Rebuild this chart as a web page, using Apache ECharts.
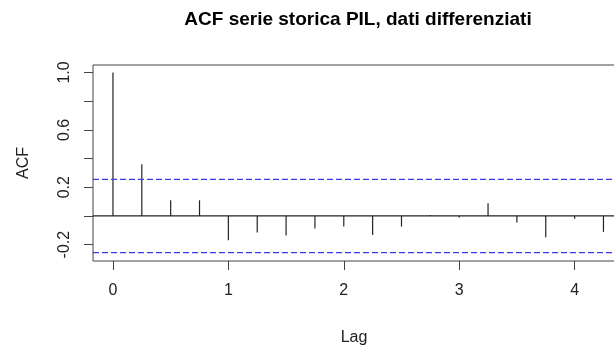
<!DOCTYPE html>
<html>
<head>
<meta charset="utf-8">
<script src="https://cdn.jsdelivr.net/npm/echarts@6/dist/echarts.min.js"></script>
<style>
html,body{margin:0;padding:0;background:#fff;}
#chart{width:614px;height:346px;}
</style>
</head>
<body>
<div id="chart"></div>
<script>
var titleText = 'ACF serie storica PIL, dati differenziati';
var lags = [0, 0.25, 0.5, 0.75, 1.0, 1.25, 1.5, 1.75, 2.0, 2.25, 2.5, 2.75, 3.0, 3.25, 3.5, 3.75, 4.0, 4.25];
var acfValues = [1.0, 0.36, 0.109, 0.109, -0.169, -0.116, -0.137, -0.088, -0.074, -0.132, -0.074, 0.007, -0.01, 0.088, -0.046, -0.149, -0.019, -0.111];
var confBounds = [0.255, -0.255];
var zeroLine = [0];
var xTicks = [0, 1, 2, 3, 4];
var yTicks = [-0.2, 0, 0.2, 0.4, 0.6, 0.8, 1.0];
var yLabels = [-0.2, 0.2, 0.6, 1.0];

var data = lags.map(function (l, i) { return [l, acfValues[i]]; });
var font = 'Liberation Sans, Arial, sans-serif';

function hLineRenderer(color, dash) {
  return function (params, api) {
    var cs = params.coordSys;
    var y = api.coord([0, api.value(0)])[1];
    return {
      type: 'line',
      shape: { x1: cs.x, y1: y, x2: cs.x + cs.width, y2: y },
      style: { stroke: color, lineWidth: 1.2, lineDash: dash }
    };
  };
}

var chart = echarts.init(document.getElementById('chart'));
chart.setOption({
  animation: false,
  backgroundColor: '#fff',
  title: {
    text: titleText,
    left: 353,
    textAlign: 'center',
    top: 5,
    textStyle: { fontFamily: font, fontSize: 19, fontWeight: 'bold', color: '#000' }
  },
  grid: {
    left: 93, top: 65, width: 522, height: 196,
    containLabel: false, outerBoundsMode: 'none',
    show: true, borderColor: '#444', borderWidth: 1, backgroundColor: 'transparent'
  },
  xAxis: {
    type: 'value',
    min: -0.173, max: 4.35,
    position: 'bottom',
    name: 'Lag', nameLocation: 'middle', nameGap: 69,
    nameTextStyle: { fontFamily: font, fontSize: 16, color: '#222' },
    axisLine: { show: false, onZero: false },
    splitLine: { show: false },
    axisTick: { show: true, inside: false, length: 9, customValues: xTicks, lineStyle: { color: '#444' } },
    axisLabel: { show: true, margin: 22, customValues: xTicks, fontFamily: font, fontSize: 16, color: '#222',
      formatter: function (v) { return String(v); } }
  },
  yAxis: {
    type: 'value',
    min: -0.314, max: 1.052,
    position: 'left',
    name: 'ACF', nameLocation: 'middle', nameGap: 61, nameRotate: 90,
    nameTextStyle: { fontFamily: font, fontSize: 16, color: '#222' },
    axisLine: { show: false, onZero: false },
    splitLine: { show: false },
    axisTick: { show: true, inside: false, length: 9, customValues: yTicks, lineStyle: { color: '#444', width: 1 } },
    axisLabel: { show: true, rotate: 90, margin: 20, customValues: yLabels, fontFamily: font, fontSize: 16, color: '#222',
      formatter: function (v) { return v.toFixed(1); } }
  },
  series: [
    {
      type: 'custom',
      data: data,
      silent: true,
      renderItem: function (params, api) {
        var p0 = api.coord([api.value(0), 0]);
        var p1 = api.coord([api.value(0), api.value(1)]);
        return {
          type: 'line',
          shape: { x1: p0[0], y1: p0[1], x2: p1[0], y2: p1[1] },
          style: { stroke: '#222', lineWidth: 1.2 }
        };
      }
    },
    {
      type: 'custom',
      data: zeroLine.map(function (v) { return [v]; }),
      dimensions: ['y'],
      encode: { y: 0 },
      silent: true,
      renderItem: hLineRenderer('#222', null)
    },
    {
      type: 'custom',
      data: confBounds.map(function (v) { return [v]; }),
      dimensions: ['y'],
      encode: { y: 0 },
      silent: true,
      renderItem: hLineRenderer('#3a3ae6', [6, 3])
    }
  ]
});
</script>
</body>
</html>
